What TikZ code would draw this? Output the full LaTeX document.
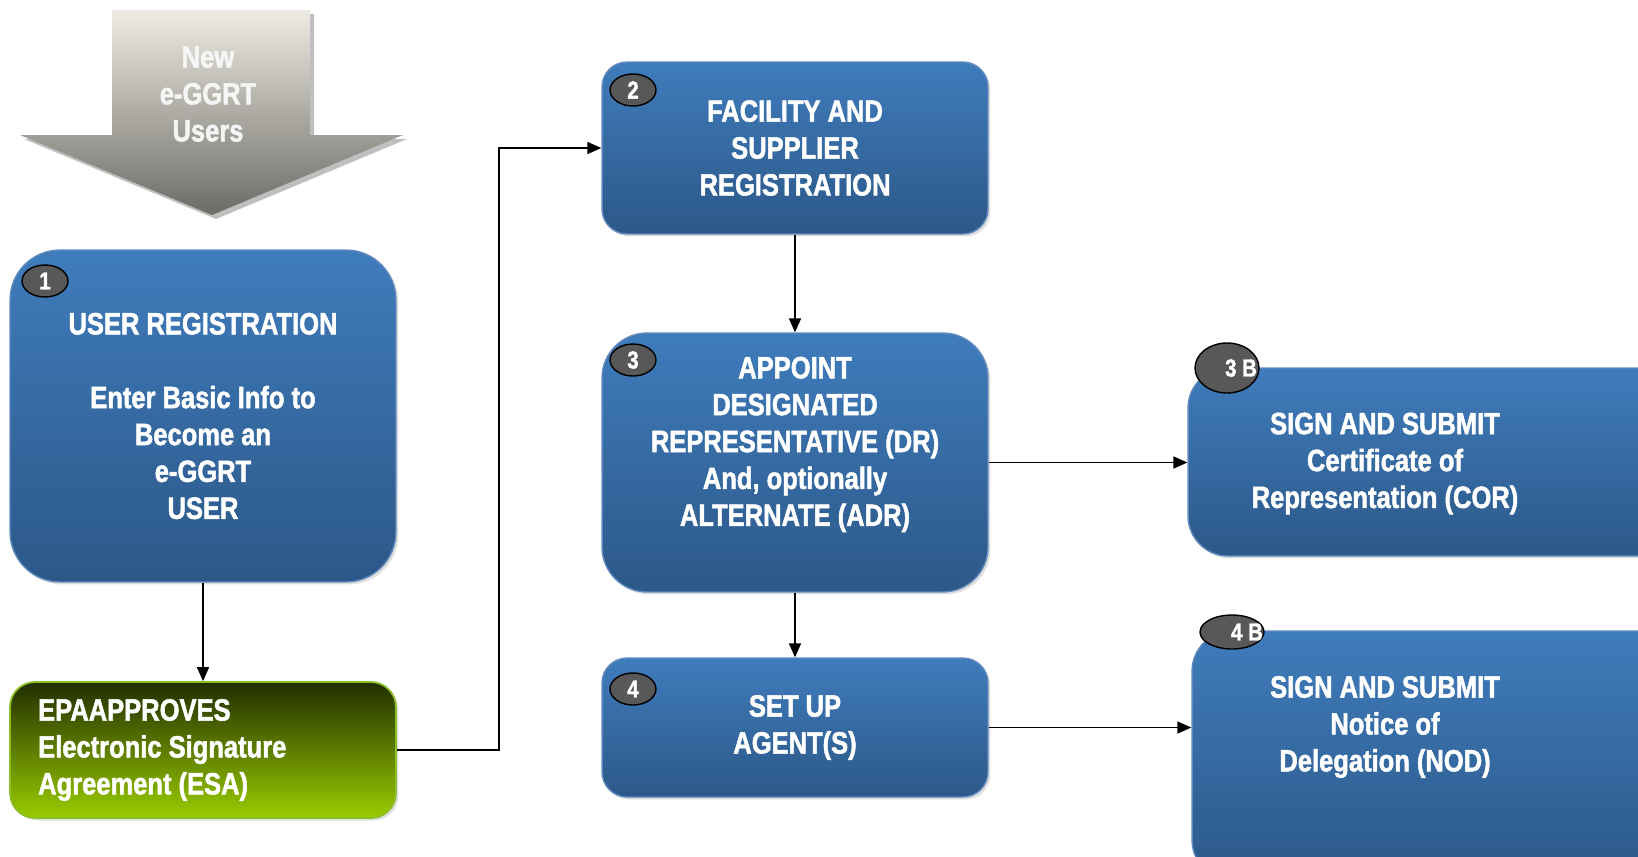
\documentclass[tikz,border=0pt]{standalone}
\usepackage{fontspec}
\setmainfont{Liberation Sans}
\newfontfamily\boxfont{Liberation Sans}[UprightFont=*-Bold, FakeStretch=0.83, FakeBold=1.6]
\usetikzlibrary{arrows.meta,shapes.geometric,shadows}

\definecolor{boxtop}{RGB}{63,124,188}
\definecolor{boxbot}{RGB}{44,88,136}
\definecolor{boxline}{RGB}{96,138,190}
\definecolor{esatop}{RGB}{34,46,0}
\definecolor{esabot}{RGB}{153,204,0}
\definecolor{esaline}{RGB}{140,190,40}
\definecolor{arrtop}{RGB}{238,236,226}
\definecolor{arrbot}{RGB}{108,107,102}
\definecolor{badgefill}{RGB}{88,88,88}

\tikzset{
  stepbox/.style={rounded corners=#1, top color=boxtop, bottom color=boxbot,
    draw=boxline, line width=0.8pt,
    drop shadow={opacity=0.25, shadow xshift=0.05cm, shadow yshift=-0.05cm}},
  stepbox/.default=0.5cm,
  txt/.style={text=white, font=\boxfont\fontsize{17.5}{21}\selectfont, align=center},
  badge/.style={ellipse, fill=badgefill, draw=black, line width=0.8pt,
    minimum width=0.92cm, minimum height=0.64cm, inner sep=0pt,
    text=white, font=\boxfont\fontsize{14}{16}\selectfont},
  link/.style={line width=0.9pt, -{Triangle[length=0.28cm,width=0.24cm]}}
}

\begin{document}
\begin{tikzpicture}[x=0.02cm, y=-0.02cm]
    \useasboundingbox (0,0) rectangle (1638,856);
    \clip (0,0) rectangle (1638,856);

    % Big arrow for new users
    \fill[black!25] (116,14) -- (314,14) -- (314,139) -- (407,139) -- (216,219) -- (24,139) -- (116,139) -- cycle;
    \shade[top color=arrtop, bottom color=arrbot] (112,10) -- (310,10) -- (310,135) -- (403,135) -- (212,215) -- (20,135) -- (112,135) -- cycle;
    \node[txt, text=white!96!black] (newusers) at (208,94) {New\\e-GGRT\\Users};

    % Left column
    \node[stepbox=1cm, minimum width=7.72cm, minimum height=6.64cm, txt] (userreg) at (203,416)
        {USER REGISTRATION\\[21pt]Enter Basic Info to\\Become an\\e-GGRT\\USER};
    \node[badge] (n1) at (45,281) {1};

    \node[rounded corners=0.5cm, top color=esatop, bottom color=esabot, draw=esaline, line width=1pt,
          minimum width=7.72cm, minimum height=2.72cm,
          drop shadow={opacity=0.25, shadow xshift=0.05cm, shadow yshift=-0.05cm}] (esa) at (203,750) {};
    \node[txt, align=left, anchor=west] (esatext) at (32,750)
        {EPAAPPROVES\\Electronic Signature\\Agreement (ESA)};

    % Middle column
    \node[stepbox, minimum width=7.72cm, minimum height=3.44cm, txt] (facility) at (795,148)
        {FACILITY AND\\SUPPLIER\\REGISTRATION};
    \node[badge] (n2) at (633,90) {2};

    \node[stepbox=0.9cm, minimum width=7.72cm, minimum height=5.18cm] (appoint) at (795,462.5) {};
    \node[txt] (appointtext) at (795,444.5)
        {APPOINT\\DESIGNATED\\REPRESENTATIVE (DR)\\And, optionally\\ALTERNATE (ADR)};
    \node[badge] (n3) at (633,360) {3};

    \node[stepbox, minimum width=7.72cm, minimum height=2.78cm, txt] (agents) at (795,727.5)
        {SET UP\\AGENT(S)};
    \node[badge] (n4) at (633,689) {4};

    % Right column (runs off the page)
    \node[stepbox=0.8cm, minimum width=9.84cm, minimum height=3.76cm] (cor) at (1434,462) {};
    \node[txt] (cortext) at (1385,463.5)
        {SIGN AND SUBMIT\\Certificate of\\Representation (COR)};
    \node[badge, minimum width=1.28cm, minimum height=1.0cm] (n3b) at (1227,368) {};
    \node[text=white, font=\boxfont\fontsize{14}{16}\selectfont] (n3btext) at (1241,368) {3 B};

    \node[stepbox=0.8cm, minimum width=9.76cm, minimum height=4.98cm] (nod) at (1436,755.5) {};
    \node[txt] (nodtext) at (1385,727)
        {SIGN AND SUBMIT\\Notice of\\Delegation (NOD)};
    \node[badge, minimum width=1.28cm, minimum height=0.68cm] (n4b) at (1232,632) {};
    \node[text=white, font=\boxfont\fontsize{14}{16}\selectfont] (n4btext) at (1247,632) {4 B};

    % Connectors
    \draw[link] (userreg) -- (esa);
    \draw[link] (esa.east) -- ++(102,0) |- (facility.west);
    \draw[link] (facility) -- (appoint);
    \draw[link] (appoint) -- (agents);
    \draw[link] (appoint.east) -- (appoint.east -| cor.west);
    \draw[link] (agents.east) -- (agents.east -| nod.west);
\end{tikzpicture}
\end{document}
